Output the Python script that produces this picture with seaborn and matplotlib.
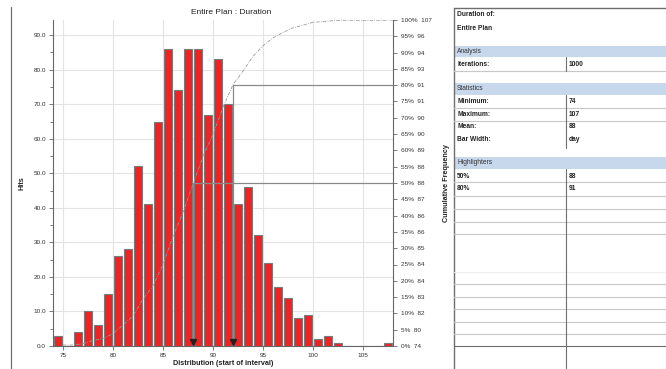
import numpy as np
import pandas as pd
import matplotlib
matplotlib.use("Agg")
import matplotlib.pyplot as plt
import seaborn as sns
from matplotlib.ticker import MultipleLocator, FixedLocator

# ---------------- data ----------------
interval_start = list(range(74, 108))
hits = [3, 0, 4, 10, 6, 15, 26, 28, 52, 41, 65, 86, 74, 86, 86, 67, 83, 70,
        41, 46, 32, 24, 17, 14, 8, 9, 2, 3, 1, 0, 0, 0, 0, 1]
cum_pct_ticks = [0, 5, 10, 15, 20, 25, 30, 35, 40, 45, 50, 55, 60, 65, 70,
                 75, 80, 85, 90, 95, 100]
cum_pct_values = [74, 80, 82, 83, 84, 84, 85, 86, 86, 87, 88, 88, 89, 90, 90,
                  91, 91, 93, 94, 96, 107]
highlight_pct = [50, 80]
highlight_val = [88, 92]

title = "Entire Plan : Duration"
header_lines = ["Duration of:", "Entire Plan"]
analysis_rows = [("Iterations:", "1000")]
stat_rows = [("Minimum:", "74"), ("Maximum:", "107"), ("Mean:", "88"), ("Bar Width:", "day")]
highlighter_rows = [("50%", "88"), ("80%", "91")]

df = pd.DataFrame({"start": interval_start, "hits": hits})
df["cum"] = df["hits"].cumsum() / df["hits"].sum() * 100
df["end"] = df["start"] + 1

# ---------------- figure ----------------
sns.set_theme(style="white")
plt.rcParams["font.family"] = ["Liberation Sans", "DejaVu Sans"]
W, H = 666, 369
fig = plt.figure(figsize=(W / 100, H / 100), dpi=100)
fig.patch.set_facecolor("white")

def fx(px):
    return px / W

def fy(py):
    return 1 - py / H

ax = fig.add_axes([fx(53), fy(346), fx(393) - fx(53), fy(20) - fy(346)])
sns.histplot(data=df, x="start", weights="hits", binwidth=1, binrange=(74, 108),
             shrink=0.8, color="#ee2424", edgecolor="#7a7a7a", linewidth=0.8,
             alpha=1, ax=ax, zorder=3)
ax.set_xlim(74, 108)
ax.set_ylim(0, 94.4)
ax.yaxis.set_major_locator(MultipleLocator(10))
ax.yaxis.set_minor_locator(MultipleLocator(5))
ax.xaxis.set_major_locator(FixedLocator([75, 80, 85, 90, 95, 100, 105]))
ax.xaxis.set_minor_locator(FixedLocator([77.5, 82.5, 87.5, 92.5, 97.5, 102.5, 107.5]))
ax.yaxis.set_major_formatter(matplotlib.ticker.FormatStrFormatter("%.1f"))
ax.grid(True, which="major", color="#e3e3e3", linewidth=0.8, zorder=0)
ax.set_axisbelow(True)
ax.tick_params(axis="both", which="major", direction="out", length=3, width=0.6,
               color="#666666", labelsize=4.6, labelcolor="#333333", pad=2)
ax.tick_params(axis="both", which="minor", direction="out", length=2, width=0.6,
               color="#666666")
ax.tick_params(left=True, bottom=True)
for s in ["top", "right"]:
    ax.spines[s].set_visible(False)
for s in ["left", "bottom"]:
    ax.spines[s].set_color("#666666")
    ax.spines[s].set_linewidth(0.8)
ax.set_xlabel("Distribution (start of interval)", fontsize=5.2, fontweight="bold",
              color="#222222", labelpad=1.5)
ax.set_ylabel("Hits", fontsize=5.2, fontweight="bold", color="#222222", labelpad=6)

ax2 = ax.twinx()
ax2.set_ylim(0, 100)
sns.lineplot(data=df, x="end", y="cum", ax=ax2, color="#9a9a9a", linewidth=0.6,
             linestyle=(0, (4, 1.5, 1, 1.5)), zorder=4)
for p, v in zip(highlight_pct, highlight_val):
    ax2.plot([v, v], [0, p], color="#8a8a8a", linewidth=0.9, zorder=5)
    ax2.plot([v, 108], [p, p], color="#8a8a8a", linewidth=0.9, zorder=5)
    ax2.plot([v], [1.2], marker="v", markersize=4, color="#222222", zorder=6)
ax2.set_xlim(74, 108)
ax2.yaxis.set_major_locator(FixedLocator(cum_pct_ticks))
ax2.set_yticklabels([f"{p}%  {v}" for p, v in zip(cum_pct_ticks, cum_pct_values)])
ax2.tick_params(axis="y", direction="out", length=3, width=0.6, color="#666666",
                labelsize=4.6, labelcolor="#333333", pad=2.5)
ax2.set_xlabel("")
ax2.set_ylabel("Cumulative Frequency", fontsize=5.2, fontweight="bold",
               color="#222222", labelpad=8)
for s in ["top", "left", "bottom"]:
    ax2.spines[s].set_visible(False)
ax2.spines["right"].set_color("#666666")
ax2.spines["right"].set_linewidth(0.8)

fig.text(fx(231), fy(12), title, ha="center", va="center", fontsize=6, color="#222222")

# ---------------- side panel ----------------
ov = fig.add_axes([0, 0, 1, 1], facecolor="none")
ov.set_xlim(0, W)
ov.set_ylim(H, 0)
ov.axis("off")

dark = "#6e6e6e"
light = "#c8c8c8"
band = "#c7d7ec"
tx_l, tx_v, col = 457, 569, 566
left, right = 454, 666

ov.plot([11, 11], [7, H], color=dark, lw=0.9)
ov.plot([left, right], [8, 8], color=dark, lw=1.0)
ov.plot([left, left], [8, H], color=dark, lw=1.0)

fs = 4.8
ov.text(tx_l, 14.5, header_lines[0], fontsize=fs, fontweight="bold", color="#222", va="center")
ov.text(tx_l, 28, header_lines[1], fontsize=fs, fontweight="bold", color="#222", va="center")

def band_row(y0, y1, label):
    ov.fill_between([left, right], y0, y1, color=band, lw=0)
    ov.text(tx_l, (y0 + y1) / 2, label, fontsize=fs, color="#333", va="center")

band_row(46, 57, "Analysis")
band_row(83, 95, "Statistics")
band_row(157, 169, "Highlighters")

# Analysis rows
ys = [64]
for (lab, val), y in zip(analysis_rows, ys):
    ov.text(tx_l, y, lab, fontsize=fs, fontweight="bold", color="#222", va="center")
    ov.text(tx_v, y, val, fontsize=fs, fontweight="bold", color="#222", va="center")
ov.plot([left, right], [71, 71], color=light, lw=0.8)
ov.plot([col, col], [57, 71], color=dark, lw=0.8)

# Statistics rows
ys = [101.5, 114.5, 127, 139.5]
for (lab, val), y in zip(stat_rows, ys):
    ov.text(tx_l, y, lab, fontsize=fs, fontweight="bold", color="#222", va="center")
    ov.text(tx_v, y, val, fontsize=fs, fontweight="bold", color="#222", va="center")
for y in [108, 121]:
    ov.plot([left, right], [y, y], color=light, lw=0.8)
ov.plot([col, col], [95, 148], color=dark, lw=0.8)

# Highlighter rows
ys = [176, 189]
for (lab, val), y in zip(highlighter_rows, ys):
    ov.text(tx_l, y, lab, fontsize=fs, fontweight="bold", color="#222", va="center")
    ov.text(tx_v, y, val, fontsize=fs, fontweight="bold", color="#222", va="center")
for y in [182, 196, 209, 222, 234, 284, 297, 309, 322, 334]:
    ov.plot([left, right], [y, y], color=light, lw=0.8)
ov.plot([left, right], [272, 272], color="#eeeeee", lw=0.8)
ov.plot([left, right], [346, 346], color=dark, lw=0.8)
ov.plot([col, col], [169, H], color=dark, lw=0.8)

fig.savefig("out.png", dpi=100, facecolor="white")
